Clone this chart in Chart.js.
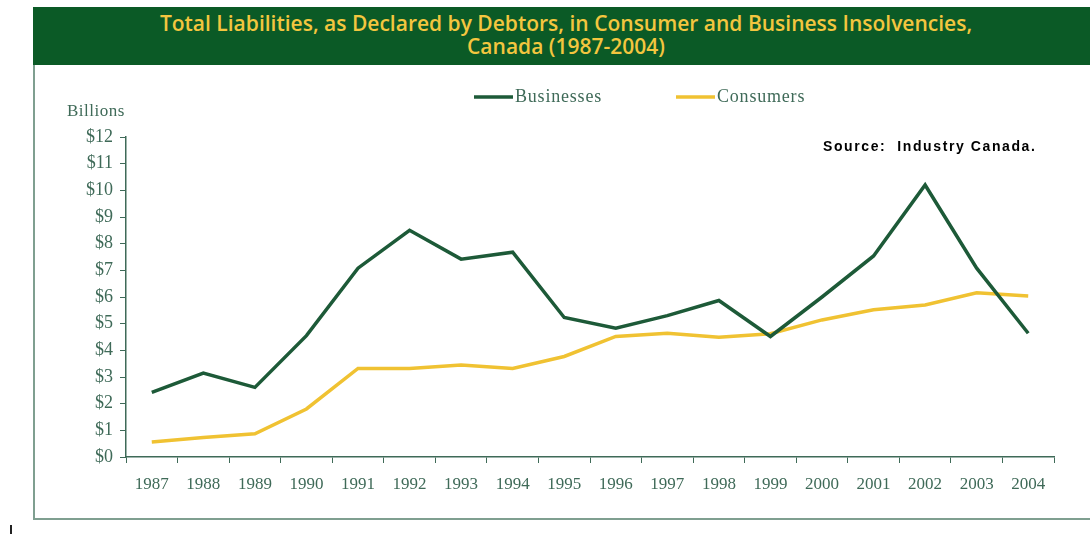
<!DOCTYPE html>
<html>
<head>
<meta charset="utf-8">
<script src="https://cdn.jsdelivr.net/npm/chart.js@4/dist/chart.umd.min.js"></script>
<style>
  html, body { margin: 0; padding: 0; background: #fff; width: 1090px; height: 538px; overflow: hidden; }
  .panel {
    position: absolute; left: 33px; top: 7px; width: 1064px; height: 511px;
    border: 2px solid #7f9f90; border-top: none; box-sizing: content-box;
  }
  .header {
    position: absolute; left: 33px; top: 7px; width: 1066px; height: 58px;
    background: #0b5a26; color: #f3c63f; text-align: center;
    font-family: "Liberation Sans Narrow", "Open Sans", sans-serif; font-size: 21px; font-weight: 600;
    line-height: 23px; padding-top: 5px; box-sizing: border-box;
  }
  .mark { position: absolute; left: 10px; top: 525px; width: 2px; height: 9px; background: #222; }
  canvas { position: absolute; left: 0; top: 0; }
</style>
</head>
<body>
<div class="panel"></div>
<div class="header">Total Liabilities, as Declared by Debtors, in Consumer and Business Insolvencies,<br>Canada (1987-2004)</div>
<div class="mark"></div>
<canvas id="chart" width="1090" height="538"></canvas>
<script>
const years = ["1987", "1988", "1989", "1990", "1991", "1992", "1993", "1994", "1995",
               "1996", "1997", "1998", "1999", "2000", "2001", "2002", "2003", "2004"];
const businesses = [2.42, 3.15, 2.61, 4.55, 7.08, 8.5, 7.42, 7.68, 5.23,
                    4.83, 5.3, 5.87, 4.52, 6.0, 7.54, 10.2, 7.08, 4.64];
const consumers = [0.56, 0.73, 0.87, 1.8, 3.32, 3.32, 3.45, 3.32, 3.77,
                   4.52, 4.64, 4.49, 4.62, 5.14, 5.52, 5.7, 6.16, 6.04];
const yTicks = [0, 1, 2, 3, 4, 5, 6, 7, 8, 9, 10, 11, 12];

const axisColor = "#3f6a58";
const serif = "'Liberation Serif', 'DejaVu Serif', serif";

// "Billions" caption, legend and source note
const extras = {
  id: "extras",
  afterDraw(chart) {
    const ctx = chart.ctx;
    ctx.save();
    ctx.fillStyle = axisColor;
    ctx.textBaseline = "middle";
    ctx.textAlign = "left";
    ctx.font = "17px " + serif;
    ctx.letterSpacing = "0.5px";
    ctx.fillText("Billions", 67, 112);

    const legendX = [474, 676];
    chart.data.datasets.forEach((ds, i) => {
      const x = legendX[i];
      ctx.strokeStyle = ds.borderColor;
      ctx.lineWidth = 3.5;
      ctx.beginPath();
      ctx.moveTo(x, 97);
      ctx.lineTo(x + 39, 97);
      ctx.stroke();
      ctx.fillStyle = axisColor;
      ctx.font = "18px " + serif;
      ctx.letterSpacing = "0.8px";
      ctx.fillText(ds.label, x + 41, 97);
    });

    ctx.fillStyle = "#000";
    ctx.font = "bold 14px 'Liberation Sans', Arial, sans-serif";
    ctx.letterSpacing = "1.6px";
    ctx.fillText("Source:  Industry Canada.", 823, 147);
    ctx.restore();
  }
};

new Chart(document.getElementById("chart"), {
  type: "line",
  data: {
    labels: years,
    datasets: [
      { label: "Businesses", data: businesses, borderColor: "#1d5a38", borderWidth: 3.5,
        pointRadius: 0, tension: 0, fill: false },
      { label: "Consumers", data: consumers, borderColor: "#f0c232", borderWidth: 3.5,
        pointRadius: 0, tension: 0, fill: false }
    ]
  },
  options: {
    responsive: false,
    animation: false,
    layout: { padding: { left: 33, right: 36, top: 137, bottom: 0 } },
    plugins: { legend: { display: false }, tooltip: { enabled: false }, title: { display: false } },
    scales: {
      x: {
        offset: true,
        grid: { offset: true, drawOnChartArea: false, color: axisColor, tickLength: 6 },
        border: { color: axisColor, width: 1.5 },
        ticks: { color: axisColor, font: { family: serif, size: 17 }, padding: 11, maxRotation: 0, autoSkip: false },
        afterFit(scale) { scale.height = 81; }
      },
      y: {
        min: 0,
        max: 12,
        afterBuildTicks(scale) { scale.ticks = yTicks.map(v => ({ value: v })); },
        grid: { drawOnChartArea: false, color: axisColor, tickLength: 6 },
        border: { color: axisColor, width: 1.5 },
        ticks: { color: axisColor, font: { family: serif, size: 18 }, padding: 7,
                 callback: v => "$" + v },
        afterFit(scale) { scale.width = 93; }
      }
    }
  },
  plugins: [extras]
});
</script>
</body>
</html>
